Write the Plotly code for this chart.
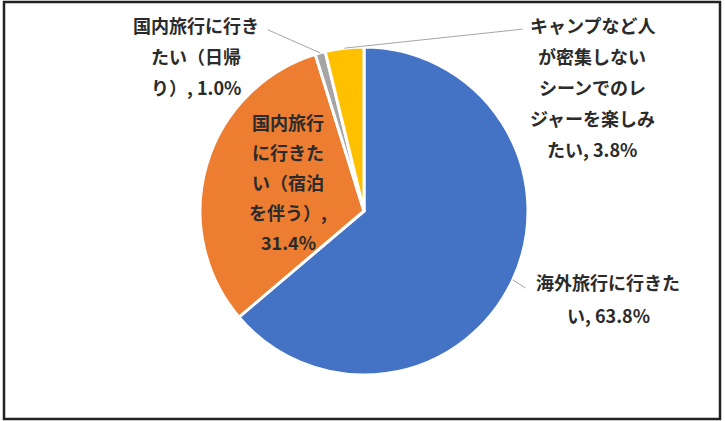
import math
import plotly.graph_objects as go

# ---- data ----
categories = [
    "海外旅行に行きたい",
    "国内旅行に行きたい（宿泊を伴う）",
    "国内旅行に行きたい（日帰り）",
    "キャンプなど人が密集しないシーンでのレジャーを楽しみたい",
]
values = [63.8, 31.4, 1.0, 3.8]
colors = ["#4472C4", "#ED7D31", "#A5A5A5", "#FFC000"]

# label lines as drawn in the chart (data labels wrapped)
label_lines = [
    ["海外旅行に行きた", "い, 63.8%"],
    ["国内旅行", "に行きた", "い（宿泊", "を伴う）,", "31.4%"],
    ["国内旅行に行き", "たい（日帰", "り）, 1.0%"],
    ["キャンプなど人", "が密集しない", "シーンでのレ", "ジャーを楽しみ", "たい, 3.8%"],
]

W, H = 725, 421
CX, CY, R = 364, 211, 164  # pie centre / radius in pixels

# label block placement (first line centre, pixels) and line step
label_pos = [(608, 282), (288, 122), (196, 25), (592, 25)]
line_step = [33, 30, 31, 31]
leader = [True, False, True, True]
leader_end = [(527, 289), None, (266, 29), (524, 29)]

fig = go.Figure()
fig.add_trace(go.Pie(
    labels=categories,
    values=values,
    sort=False,
    direction="clockwise",
    rotation=0,
    marker=dict(colors=colors, line=dict(color="white", width=3)),
    textinfo="none",
    hoverinfo="label+percent",
    showlegend=False,
    domain=dict(x=[(CX - R) / W, (CX + R) / W],
                y=[1 - (CY + R) / H, 1 - (CY - R) / H]),
))

font = dict(family="Noto Sans CJK JP", size=18, color="#2b2b2b")
annotations = []
total = sum(values)
cum = 0.0
for i, v in enumerate(values):
    mid = (cum + v / 2) / total * 2 * math.pi
    cum += v
    lx, ly = label_pos[i]
    for j, line in enumerate(label_lines[i]):
        y = ly + j * line_step[i]
        annotations.append(dict(
            x=lx / W, y=1 - y / H, xref="paper", yref="paper",
            text="<b>" + line + "</b>", showarrow=False, font=font,
            xanchor="center", yanchor="middle",
        ))
    if leader[i]:
        ex = CX + R * math.sin(mid)
        ey = CY - R * math.cos(mid)
        tx, ty = leader_end[i]
        annotations.append(dict(
            x=ex / W, y=1 - ey / H, xref="paper", yref="paper",
            ax=tx - ex, ay=ty - ey,
            showarrow=True, arrowhead=0, arrowwidth=1,
            arrowcolor="#A6A6A6", text="",
        ))

fig.update_layout(
    width=W, height=H,
    margin=dict(l=0, r=0, t=0, b=0),
    paper_bgcolor="white",
    plot_bgcolor="white",
    annotations=annotations,
    shapes=[dict(type="rect", xref="paper", yref="paper",
                 x0=4 / W, x1=720 / W, y0=1 - 419 / H, y1=1 - 2 / H,
                 line=dict(color="#222222", width=2.5))],
)

fig.write_html("out.html")
